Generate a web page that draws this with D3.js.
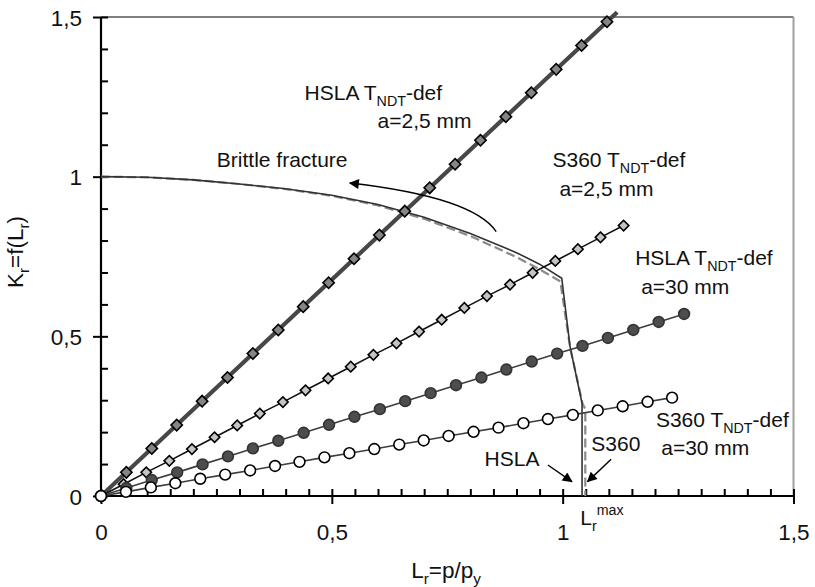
<!DOCTYPE html>
<html>
<head>
<meta charset="utf-8">
<script src="https://cdn.jsdelivr.net/npm/d3@7/dist/d3.min.js"></script>
<style>
  html, body { margin: 0; padding: 0; background: #fff; }
  svg { display: block; font-family: "Liberation Sans", Arial, sans-serif; }
</style>
</head>
<body>
<svg id="chart" width="815" height="587"></svg>
<script>
// Failure assessment diagram: Kr versus Lr with assessment points

// HSLA, T_NDT-def, a = 2,5 mm
const hsla25Lr = [0, 0.055, 0.110, 0.164, 0.219, 0.274, 0.329, 0.384, 0.438, 0.493, 0.548,
                  0.603, 0.658, 0.712, 0.767, 0.822, 0.877, 0.932, 0.986, 1.041, 1.096];
const hsla25Kr = [0, 0.074, 0.149, 0.222, 0.297, 0.371, 0.446, 0.520, 0.593, 0.668, 0.743,
                  0.817, 0.892, 0.965, 1.039, 1.114, 1.188, 1.263, 1.336, 1.411, 1.485];
// loading path of this series runs on past the last point
const hsla25PathEnd = [1.118, 1.515];

// S360, T_NDT-def, a = 2,5 mm
const s36025Lr = [0, 0.049, 0.098, 0.148, 0.197, 0.246, 0.295, 0.344, 0.394, 0.443, 0.492, 0.541,
                  0.590, 0.640, 0.689, 0.738, 0.787, 0.836, 0.886, 0.935, 0.984, 1.033, 1.082, 1.132];
const s36025Kr = [0, 0.037, 0.074, 0.110, 0.147, 0.184, 0.221, 0.258, 0.294, 0.331, 0.368, 0.405,
                  0.442, 0.478, 0.515, 0.552, 0.589, 0.626, 0.662, 0.699, 0.736, 0.773, 0.810, 0.847];

// HSLA, T_NDT-def, a = 30 mm
const hsla30Lr = [0, 0.055, 0.110, 0.165, 0.220, 0.275, 0.329, 0.384, 0.439, 0.494, 0.549, 0.604,
                  0.659, 0.714, 0.769, 0.824, 0.878, 0.933, 0.988, 1.043, 1.098, 1.153, 1.208, 1.263];
const hsla30Kr = [0, 0.025, 0.050, 0.074, 0.099, 0.124, 0.149, 0.173, 0.198, 0.223, 0.248, 0.272,
                  0.297, 0.322, 0.347, 0.371, 0.396, 0.421, 0.446, 0.470, 0.495, 0.520, 0.545, 0.570];

// S360, T_NDT-def, a = 30 mm
const s36030Lr = [0, 0.054, 0.108, 0.161, 0.215, 0.269, 0.323, 0.377, 0.430, 0.484, 0.538, 0.592,
                  0.646, 0.699, 0.753, 0.807, 0.861, 0.915, 0.968, 1.022, 1.076, 1.130, 1.184, 1.237];
const s36030Kr = [0, 0.013, 0.027, 0.040, 0.054, 0.067, 0.080, 0.094, 0.107, 0.121, 0.134, 0.147,
                  0.161, 0.174, 0.188, 0.201, 0.214, 0.228, 0.241, 0.254, 0.268, 0.281, 0.295, 0.308];

// Failure assessment curves Kr = f(Lr), cut off at Lr max
const fadHslaLr = [0, 0.1, 0.2, 0.3, 0.4, 0.5, 0.6, 0.7, 0.8, 0.9, 0.95, 0.998, 1.016, 1.042, 1.042];
const fadHslaKr = [1, 0.998, 0.990, 0.977, 0.962, 0.942, 0.913, 0.873, 0.822, 0.762, 0.726, 0.682, 0.468, 0.290, 0];
const fadS360Lr = [0, 0.1, 0.2, 0.3, 0.4, 0.5, 0.6, 0.7, 0.8, 0.9, 0.95, 0.995, 1.016, 1.043, 1.049, 1.049];
const fadS360Kr = [1, 0.998, 0.990, 0.977, 0.961, 0.940, 0.910, 0.868, 0.814, 0.748, 0.710, 0.672, 0.466, 0.290, 0.272, 0];

// Axis ticks
const majorTicks = [0, 0.5, 1, 1.5];
const tickLabels = ["0", "0,5", "1", "1,5"];
const xMinorStep = 0.05;
const yMinorStep = 0.1;

const zip = (a, b) => a.map((v, i) => [v, b[i]]);

const svg = d3.select("#chart");
const x = d3.scaleLinear().domain([0, 1.5]).range([101, 793.5]);
const y = d3.scaleLinear().domain([0, 1.5]).range([496, 17]);

// frame: grey top and right edges
svg.append("line").attr("x1", x(0)).attr("x2", x(1.5)).attr("y1", y(1.5)).attr("y2", y(1.5))
  .attr("stroke", "#808080").attr("stroke-width", 2);
svg.append("line").attr("x1", x(1.5)).attr("x2", x(1.5)).attr("y1", y(1.5)).attr("y2", y(0))
  .attr("stroke", "#a0a0a0").attr("stroke-width", 2);

// minor ticks (inside)
const xMinor = d3.range(0, 1.5001, xMinorStep).map(v => +v.toFixed(2));
const yMinor = d3.range(0, 1.5001, yMinorStep).map(v => +v.toFixed(2));
const xAxisMinor = d3.axisTop(x).tickValues(xMinor).tickSize(7).tickFormat("");
const yAxisMinor = d3.axisRight(y).tickValues(yMinor).tickSize(7).tickFormat("");
const gxm = svg.append("g").attr("transform", `translate(0,${y(0)})`).call(xAxisMinor);
const gym = svg.append("g").attr("transform", `translate(${x(0)},0)`).call(yAxisMinor);

// major ticks (outside) with labels
const fmt = v => tickLabels[majorTicks.indexOf(v)];
const xAxis = d3.axisBottom(x).tickValues(majorTicks).tickSize(8).tickPadding(20).tickFormat(fmt);
const yAxis = d3.axisLeft(y).tickValues(majorTicks).tickSize(8).tickPadding(11).tickFormat(fmt);
const gx = svg.append("g").attr("transform", `translate(0,${y(0)})`).call(xAxis);
const gy = svg.append("g").attr("transform", `translate(${x(0)},0)`).call(yAxis);

[gxm, gym, gx, gy].forEach(g => {
  g.select(".domain").remove();
  g.selectAll(".tick line").attr("stroke", "#000").attr("stroke-width", 2);
  g.selectAll(".tick text").attr("font-size", 22.5).attr("fill", "#111")
    .attr("font-family", "'Liberation Sans', Arial, sans-serif");
});
gy.selectAll(".tick text").attr("dy", "0.36em");

// black left and bottom axis lines
svg.append("line").attr("x1", x(0)).attr("x2", x(0)).attr("y1", y(1.5)).attr("y2", y(0) + 1)
  .attr("stroke", "#000").attr("stroke-width", 2.2);
svg.append("line").attr("x1", x(0) - 1).attr("x2", x(1.5)).attr("y1", y(0)).attr("y2", y(0))
  .attr("stroke", "#000").attr("stroke-width", 2.2);

const line = d3.line().x(d => x(d[0])).y(d => y(d[1]));

// failure assessment curves
svg.append("path").datum(zip(fadS360Lr, fadS360Kr)).attr("d", line)
  .attr("fill", "none").attr("stroke", "#8a8a8a").attr("stroke-width", 2.2)
  .attr("stroke-dasharray", "9,4");
svg.append("path").datum(zip(fadHslaLr, fadHslaKr)).attr("d", line)
  .attr("fill", "none").attr("stroke", "#333").attr("stroke-width", 1.6);

// assessment point series
function drawSeries(pts, opt) {
  svg.append("path").datum(opt.path || pts).attr("d", line)
    .attr("fill", "none").attr("stroke", opt.lineColor).attr("stroke-width", opt.lineWidth);
  const g = svg.append("g");
  if (opt.shape === "diamond") {
    g.selectAll("path").data(pts).join("path")
      .attr("d", d3.symbol().type(d3.symbolSquare).size(opt.size * opt.size))
      .attr("transform", d => `translate(${x(d[0])},${y(d[1])}) rotate(45)`)
      .attr("fill", opt.fill).attr("stroke", "#000").attr("stroke-width", 1.6);
  } else {
    g.selectAll("circle").data(pts).join("circle")
      .attr("cx", d => x(d[0])).attr("cy", d => y(d[1])).attr("r", opt.size / 2)
      .attr("fill", opt.fill).attr("stroke", opt.stroke).attr("stroke-width", 1.6);
  }
}

drawSeries(zip(hsla25Lr, hsla25Kr), { path: [[0, 0], hsla25PathEnd], lineColor: "#474747", lineWidth: 4.2,
  shape: "diamond", size: 8, fill: "#858585" });
drawSeries(zip(s36025Lr, s36025Kr), { lineColor: "#111", lineWidth: 1.6,
  shape: "diamond", size: 7.4, fill: "#c4c4c4" });
drawSeries(zip(hsla30Lr, hsla30Kr), { lineColor: "#3d3d3d", lineWidth: 1.6,
  shape: "circle", size: 10.8, fill: "#4d4d4d", stroke: "#333" });
drawSeries(zip(s36030Lr, s36030Kr), { lineColor: "#3d3d3d", lineWidth: 1.6,
  shape: "circle", size: 10.8, fill: "#fff", stroke: "#000" });

// arrowhead
svg.append("defs").append("marker").attr("id", "head")
  .attr("viewBox", "0 0 10 10").attr("refX", 9).attr("refY", 5)
  .attr("markerWidth", 13).attr("markerHeight", 10).attr("markerUnits", "userSpaceOnUse")
  .attr("orient", "auto-start-reverse")
  .append("path").attr("d", "M0,0 L10,5 L0,10 Z").attr("fill", "#000");

// "Brittle fracture" arrow (curved)
const bfTip = [0.539, 0.980], bfCtl = [0.805, 0.936], bfEnd = [0.856, 0.828];
svg.append("path")
  .attr("d", `M${x(bfEnd[0])},${y(bfEnd[1])} Q${x(bfCtl[0])},${y(bfCtl[1])} ${x(bfTip[0])},${y(bfTip[1])}`)
  .attr("fill", "none").attr("stroke", "#000").attr("stroke-width", 1.4)
  .attr("marker-end", "url(#head)");

// straight arrows pointing at the two Lr max cut-offs
const arrows = [
  [[0.968, 0.097], [1.020, 0.045]],
  [[1.105, 0.115], [1.054, 0.045]]
];
arrows.forEach(a => {
  svg.append("line").attr("x1", x(a[0][0])).attr("y1", y(a[0][1]))
    .attr("x2", x(a[1][0])).attr("y2", y(a[1][1]))
    .attr("stroke", "#000").attr("stroke-width", 1.4).attr("marker-end", "url(#head)");
});

// text with _{sub} and ^{sup} runs
function richText(sel, str, size) {
  const parts = str.split(/(_\{[^}]*\}|\^\{[^}]*\})/).filter(s => s.length);
  let shift = 0;
  parts.forEach(p => {
    let t = p, dy = 0, fs = size;
    if (p.startsWith("_{")) { t = p.slice(2, -1); fs = size * 0.68; dy = size * 0.28; }
    else if (p.startsWith("^{")) { t = p.slice(2, -1); fs = size * 0.68; dy = -size * 0.5; }
    sel.append("tspan").attr("font-size", fs).attr("dy", dy - shift).text(t);
    shift = dy;
  });
}

const labels = [
  { t: "HSLA T_{NDT}-def", x: 0.441, y: 1.240, a: "start" },
  { t: "a=2,5 mm",          x: 0.599, y: 1.1525, a: "start" },
  { t: "Brittle fracture",  x: 0.534, y: 1.030, a: "end" },
  { t: "S360 T_{NDT}-def", x: 0.978, y: 1.031, a: "start" },
  { t: "a=2,5 mm",          x: 0.993, y: 0.938, a: "start" },
  { t: "HSLA T_{NDT}-def", x: 1.157, y: 0.7235, a: "start" },
  { t: "a=30 mm",           x: 1.170, y: 0.6326, a: "start" },
  { t: "S360 T_{NDT}-def", x: 1.202, y: 0.217, a: "start" },
  { t: "a=30 mm",           x: 1.2135, y: 0.1284, a: "start" },
  { t: "S360",              x: 1.062, y: 0.142, a: "start" },
  { t: "HSLA",              x: 0.9496, y: 0.094, a: "end" },
  { t: "L_{r}^{max}",       x: 1.038, y: -0.091, a: "start" }
];
labels.forEach(l => {
  const el = svg.append("text").attr("x", x(l.x)).attr("y", y(l.y))
    .attr("text-anchor", l.a).attr("fill", "#111");
  richText(el, l.t, 21);
});

// axis titles
const xt = svg.append("text").attr("x", 446).attr("y", 578).attr("text-anchor", "middle").attr("fill", "#111");
richText(xt, "L_{r}=p/p_{y}", 22.5);
const yt = svg.append("text").attr("transform", "translate(23,252) rotate(-90)")
  .attr("text-anchor", "middle").attr("fill", "#111");
richText(yt, "K_{r}=f(L_{r})", 22.5);
</script>
</body>
</html>
